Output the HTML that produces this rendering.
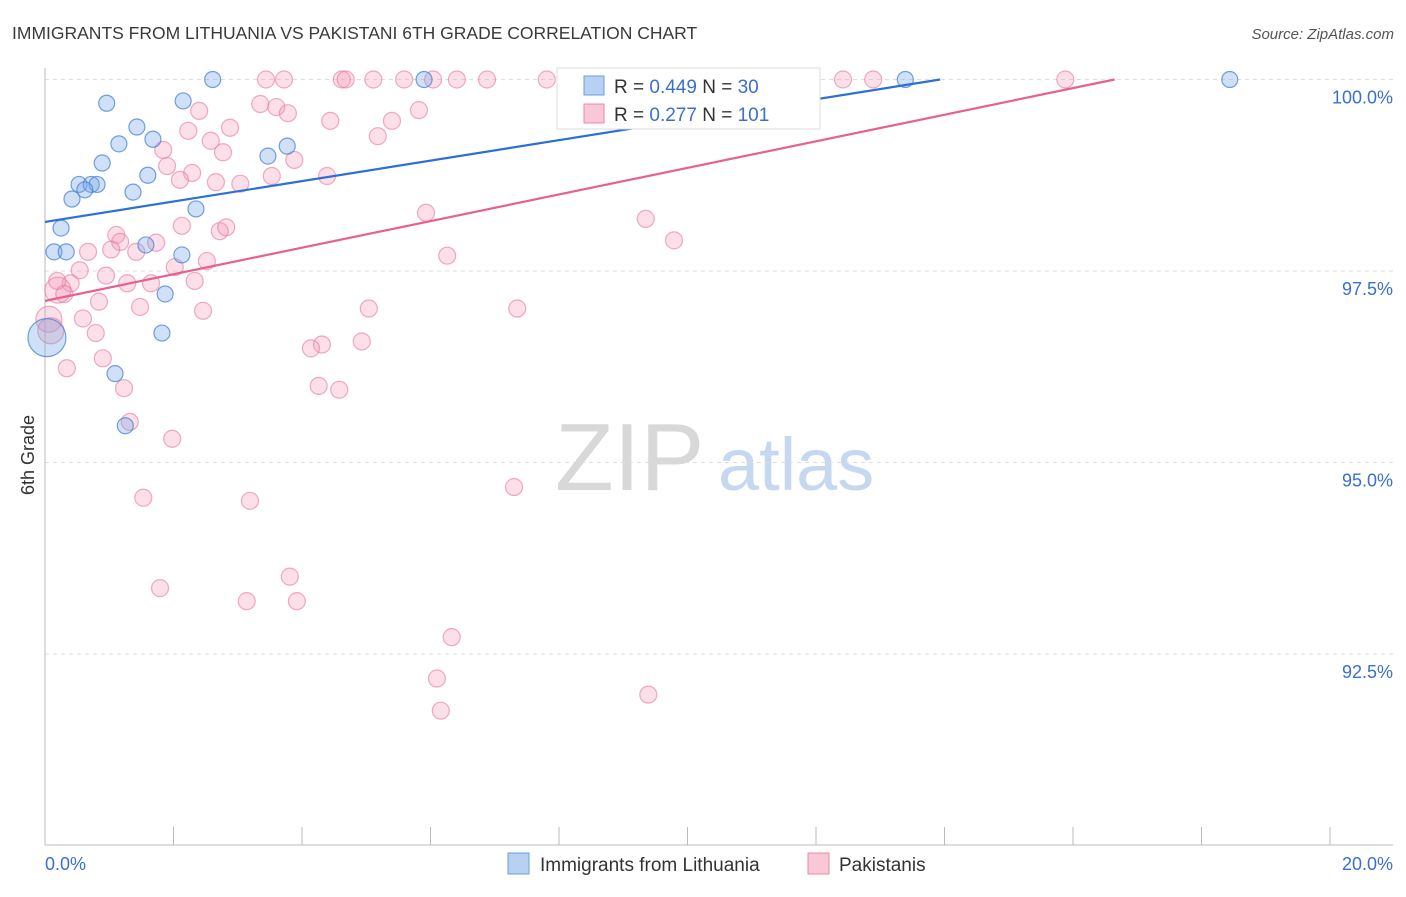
<!DOCTYPE html>
<html><head><meta charset="utf-8"><style>
body{margin:0;background:#fff;font-family:"Liberation Sans",sans-serif;}
svg text{font-family:"Liberation Sans",sans-serif;}
</style></head><body>
<svg id="chart" width="1406" height="892" viewBox="0 0 1406 892" xmlns="http://www.w3.org/2000/svg">
<text x="12" y="39" font-size="17.5" fill="#3a3a3a">IMMIGRANTS FROM LITHUANIA VS PAKISTANI 6TH GRADE CORRELATION CHART</text>
<text x="1394" y="39" font-size="15" fill="#555" font-style="italic" text-anchor="end">Source: ZipAtlas.com</text>
<g>
<text x="555" y="490" font-size="96" fill="#d8d8d8" font-family="Liberation Serif,serif">ZIP</text>
<text x="718" y="490" font-size="74" fill="#c5d8ef">atlas</text>
</g>
<g id="grid"></g>
<g id="axes"></g>
<g id="pts"></g>
<g id="lines"></g>
<text transform="translate(34,455) rotate(-90)" font-size="18" fill="#333" text-anchor="middle">6th Grade</text>
<g>
<rect x="557" y="68" width="263" height="61" fill="#fff" stroke="#ddd"/>
<rect x="584" y="76" width="20" height="19" fill="#b8d1f3" stroke="#6a9fe0"/>
<rect x="584" y="104" width="20" height="19" fill="#f9c7d6" stroke="#e98aa8"/>
<text x="614" y="93" font-size="19" fill="#333">R = <tspan fill="#3a6fd0">0.449</tspan>   N = <tspan fill="#3a6fd0">30</tspan></text>
<text x="614" y="121" font-size="19" fill="#333">R =  <tspan fill="#3a6fd0">0.277</tspan>   N = <tspan fill="#3a6fd0">101</tspan></text>
</g>
<g>
<rect x="508" y="853" width="21" height="21" fill="#b8d1f3" stroke="#6a9fe0"/>
<text x="540" y="871" font-size="19" fill="#333">Immigrants from Lithuania</text>
<rect x="808" y="853" width="21" height="21" fill="#f9c7d6" stroke="#e98aa8"/>
<text x="839" y="871" font-size="19" fill="#333">Pakistanis</text>
</g>
</svg>
<script>
const NS="http://www.w3.org/2000/svg";
const xTicks=[0,2,4,6,8,10,12,14,16,18,20];
const yTicks=[100,97.5,95,92.5];
const yTickLabels=["100.0%","97.5%","95.0%","92.5%"];
const blueX=[2.61,0.96,2.15,1.43,1.68,1.15,0.89,3.47,3.77,1.60,0.53,0.72,0.81,0.62,1.37,0.42,2.35,0.25,0.14,0.33,1.57,2.13,1.87,1.82,1.09,1.25,5.90,13.39,18.44,0.03];
const blueY=[100,99.69,99.72,99.38,99.22,99.16,98.91,99.00,99.13,98.75,98.63,98.63,98.63,98.56,98.53,98.44,98.31,98.06,97.75,97.75,97.84,97.71,97.20,96.69,96.16,95.48,100,100,100,96.63];
const blueR=[8,8,8,8,8,8,8,8,8,8,8,8,8,8,8,8,8,8,8,8,8,8,8,8,8,8,8,8,8,19];
const pinkX=[3.44,3.72,4.62,4.68,5.11,5.59,6.04,6.41,6.88,7.81,8.12,8.30,8.64,8.95,9.26,9.57,9.88,10.19,10.38,11.21,12.42,12.89,15.88,
5.82,3.35,3.60,3.78,2.40,4.44,5.40,2.88,2.23,5.18,2.58,1.84,2.77,3.88,1.90,2.29,2.10,2.66,3.04,3.53,4.39,5.93,9.35,9.79,2.13,2.72,2.82,1.11,1.17,1.73,0.67,1.03,1.42,2.52,6.26,2.02,0.54,0.95,2.33,1.28,0.40,1.65,0.20,0.19,0.30,0.84,1.48,2.46,5.04,7.35,0.59,0.06,0.79,0.09,4.93,4.31,4.14,0.90,0.34,1.23,4.26,4.58,1.32,1.98,7.30,1.53,3.19,1.79,3.81,3.14,3.92,6.33,6.10,6.16,9.39];
const pinkY=[100,100,100,100,100,100,100,100,100,100,100,100,100,100,100,100,100,100,100,100,100,100,100,
99.60,99.68,99.64,99.56,99.59,99.46,99.46,99.37,99.33,99.26,99.20,99.08,99.05,98.95,98.87,98.78,98.69,98.66,98.64,98.74,98.74,98.26,98.18,97.90,98.09,98.02,98.07,97.97,97.88,97.87,97.75,97.78,97.75,97.63,97.70,97.55,97.51,97.44,97.37,97.34,97.34,97.34,97.25,97.37,97.20,97.10,97.03,96.98,97.01,97.01,96.88,96.87,96.69,96.72,96.58,96.54,96.49,96.36,96.23,95.97,96.00,95.95,95.53,95.31,94.68,94.54,94.50,93.36,93.51,93.19,93.19,92.72,92.18,91.76,91.97];
const pinkBig=[65,74,76];
const blueLine=[98.14,0.1335];
const pinkLine=[97.11,0.1736];
const X=v=>45+v*64.25, Y=v=>79.5+(100-v)*76.6;
const grid=document.getElementById('grid'),axes=document.getElementById('axes'),pts=document.getElementById('pts'),lines=document.getElementById('lines');
function mk(tag,at,parent){const e=document.createElementNS(NS,tag);for(const k in at)e.setAttribute(k,at[k]);parent.appendChild(e);return e;}
yTicks.forEach((t,i)=>{
 const l=mk('line',{x1:45,x2:1393,y1:Y(t),y2:Y(t),stroke:'#ddd','stroke-dasharray':'4,4'},grid);
 
 
 const tx=mk('text',{x:1393,y:Y(t)+24,'font-size':18,fill:'#3a6fd0','text-anchor':'end'},axes);
 tx.textContent=yTickLabels[i];
 
 
});
const ax=mk('line',{x1:45,x2:45,y1:68,y2:845,stroke:'#bbb'},axes);


const bx=mk('line',{x1:45,x2:1393,y1:845,y2:845,stroke:'#bbb'},axes);


xTicks.forEach(t=>{
 const l=mk('line',{x1:X(t),x2:X(t),y1:827,y2:845,stroke:'#bbb'},axes);
 
 
});
const x0=mk('text',{x:45,y:870,'font-size':18,fill:'#3a6fd0'},axes);x0.textContent='0.0%';


const x1=mk('text',{x:1393,y:870,'font-size':18,fill:'#3a6fd0','text-anchor':'end'},axes);x1.textContent='20.0%';


pinkX.forEach((v,i)=>{
 const c=mk('circle',{cx:X(v),cy:Y(pinkY[i]),r:pinkBig.includes(i)?13:8.5,fill:'rgba(244,150,180,0.3)',stroke:'rgba(228,120,155,0.6)','stroke-width':1.2},pts);
 
 
});
blueX.forEach((v,i)=>{
 const c=mk('circle',{cx:X(v),cy:Y(blueY[i]),r:blueR[i],fill:'rgba(120,165,230,0.35)',stroke:'rgba(70,130,215,0.75)','stroke-width':1.2},pts);
 
 
});
function trend(p,col,name){
 const xe=Math.min(20,(100-p[0])/p[1]);
 const l=mk('line',{x1:X(0),y1:Y(p[0]),x2:X(xe),y2:Y(p[0]+p[1]*xe),stroke:col,'stroke-width':2.2},lines);
 
 
}
trend(blueLine,'#2d6fd6','lithuania-trend-line');
trend(pinkLine,'#e8608f','pakistanis-trend-line');
</script>
</body></html>
